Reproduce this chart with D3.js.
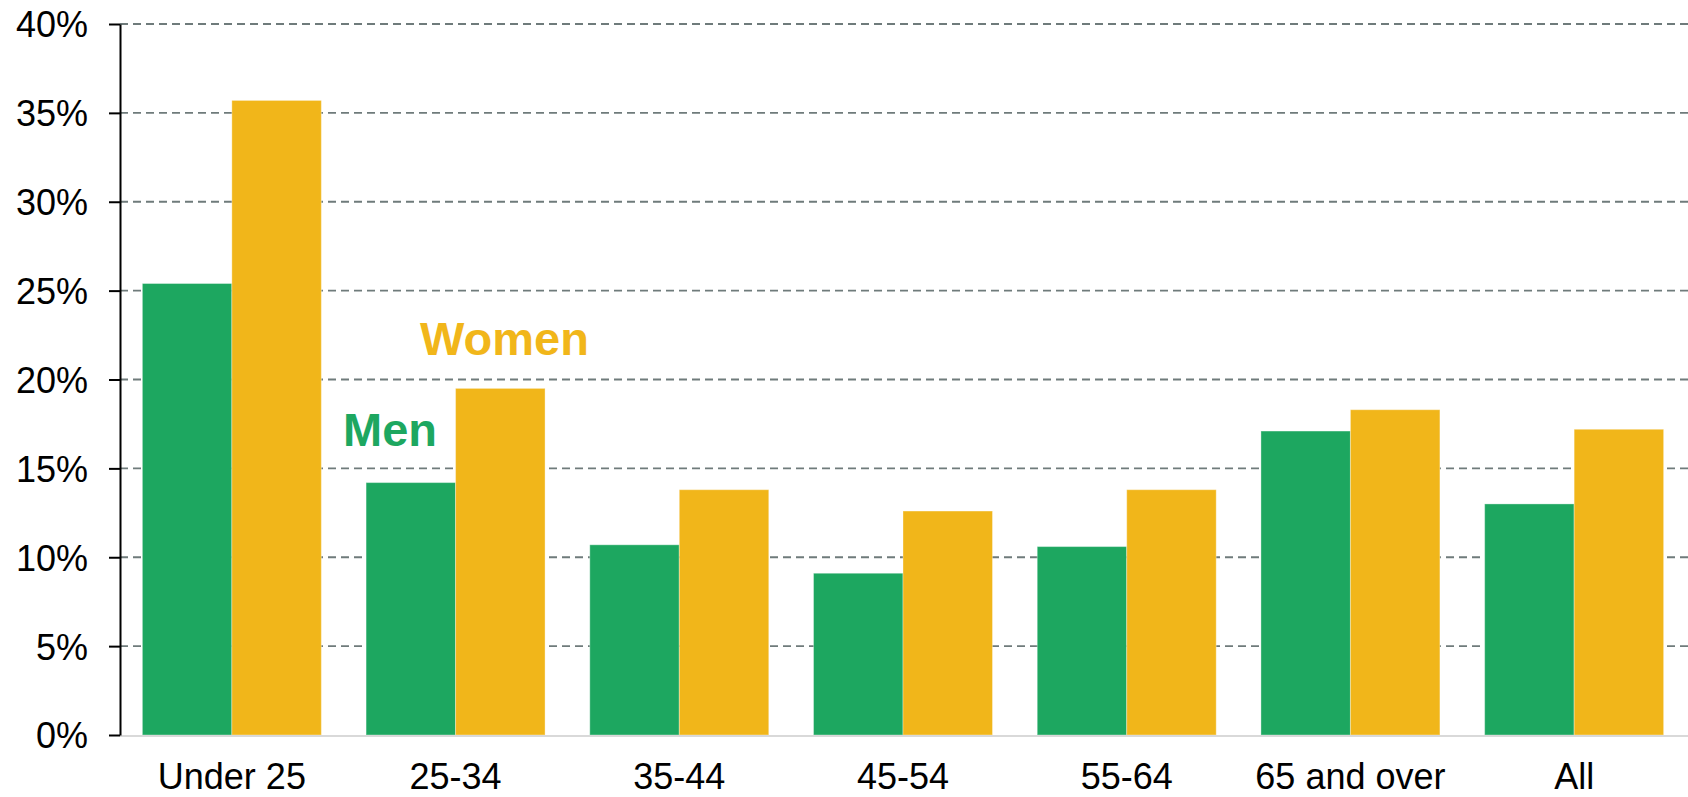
<!DOCTYPE html>
<html>
<head>
<meta charset="utf-8">
<script src="https://cdn.jsdelivr.net/npm/d3@7"></script>
<style>
  body { margin: 0; background: #fff; }
  text { font-family: "Liberation Sans", Arial, sans-serif; }
</style>
</head>
<body>
<svg id="chart"></svg>
<script>
// data
var ageGroups = ["Under 25", "25-34", "35-44", "45-54", "55-64", "65 and over", "All"];
var menValues = [25.4, 14.2, 10.7, 9.1, 10.6, 17.1, 13.0];
var womenValues = [35.7, 19.5, 13.8, 12.6, 13.8, 18.3, 17.2];
var yTicks = [0, 5, 10, 15, 20, 25, 30, 35, 40];

var width = 1688;
var height = 797;
var margin = { "left": 120, "right": 2, "top": 24, "bottom": 62 };
var innerW = width - margin.left - margin.right;
var innerH = height - margin.top - margin.bottom;

var green = "#1da760";
var yellow = "#f1b61a";

var svg = d3.select("#chart")
    .attr("width", width)
    .attr("height", height);

var g = svg.append("g")
    .attr("transform", "translate(" + margin.left + "," + margin.top + ")");

var x = d3.scaleBand()
    .domain(ageGroups)
    .range([0, innerW])
    .paddingInner(0.2)
    .paddingOuter(0.1);

var x1 = d3.scaleBand()
    .domain(["men", "women"])
    .range([0, x.bandwidth()]);

var y = d3.scaleLinear()
    .domain([0, 40])
    .range([innerH, 0]);

// dashed gridlines
g.append("g")
    .selectAll("line")
    .data(yTicks.filter(d => d > 0))
    .enter().append("line")
    .attr("x1", 0)
    .attr("x2", width - margin.left)
    .attr("y1", d => y(d))
    .attr("y2", d => y(d))
    .style("stroke", "#6f7b7b")
    .style("stroke-width", 1.8)
    .style("stroke-dasharray", "8,5");

// bars
var rows = ageGroups.map((a, i) => ({ group: a, men: menValues[i], women: womenValues[i] }));

var groups = g.selectAll(".bar-group")
    .data(rows).enter()
    .append("g")
    .attr("class", "bar-group")
    .attr("transform", d => "translate(" + x(d.group) + ",0)");

groups.append("rect")
    .attr("x", x1("men"))
    .attr("y", d => y(d.men))
    .attr("width", x1.bandwidth())
    .attr("height", d => innerH - y(d.men))
    .style("fill", green)
    .style("stroke", "#ffffff")
    .style("stroke-opacity", 0.35)
    .style("stroke-width", 1);

groups.append("rect")
    .attr("x", x1("women"))
    .attr("y", d => y(d.women))
    .attr("width", x1.bandwidth())
    .attr("height", d => innerH - y(d.women))
    .style("fill", yellow)
    .style("stroke", "#ffffff")
    .style("stroke-opacity", 0.35)
    .style("stroke-width", 1);

// light baseline
g.append("line")
    .attr("x1", 0)
    .attr("x2", width - margin.left)
    .attr("y1", y(0) + 1)
    .attr("y2", y(0) + 1)
    .style("stroke", "#d9d9d9")
    .style("stroke-width", 2);

// y axis
var yAxis = g.append("g")
    .call(d3.axisLeft(y)
        .tickValues(yTicks)
        .tickSize(11)
        .tickSizeOuter(0)
        .tickPadding(21)
        .tickFormat(d => d + "%"));
yAxis.select(".domain").style("stroke", "#000").style("stroke-width", 2);
yAxis.selectAll(".tick line").style("stroke", "#000").style("stroke-width", 2);
yAxis.selectAll(".tick text")
    .style("font-size", "36px")
    .style("fill", "#000")
    .attr("dy", "0.36em");

// x axis labels
var xAxis = g.append("g")
    .attr("transform", "translate(0," + innerH + ")")
    .call(d3.axisBottom(x).tickSize(0).tickPadding(28));
xAxis.select(".domain").remove();
xAxis.selectAll(".tick text")
    .style("font-size", "36px")
    .style("fill", "#000");

// series labels
g.append("text")
    .attr("x", x("25-34") - 23)
    .attr("y", y(16.25))
    .style("font-size", "47px")
    .style("font-weight", "bold")
    .style("fill", green)
    .text("Men");

g.append("text")
    .attr("x", x("25-34") + 54)
    .attr("y", y(21.38))
    .style("font-size", "47px")
    .style("font-weight", "bold")
    .style("fill", yellow)
    .text("Women");
</script>
</body>
</html>
